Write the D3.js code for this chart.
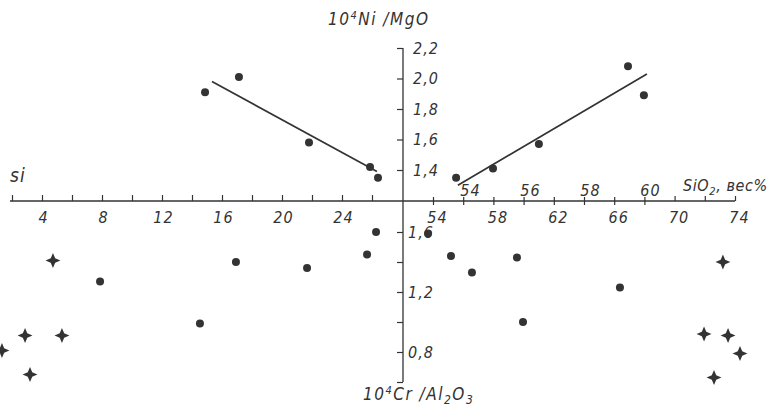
<!DOCTYPE html>
<html>
<head>
<meta charset="utf-8">
<title>Ni/MgO and Cr/Al2O3 vs si and SiO2</title>
<script src="https://d3js.org/d3.v7.min.js"></script>
<style>
  body { margin: 0; background: #fff; }
  text { font-family: "DejaVu Sans Condensed", "Liberation Sans", sans-serif; font-style: italic; fill: #333; letter-spacing: 1px; }
</style>
</head>
<body>
<script>

// --- data ---
// upper left: 10^4 Ni/MgO against si
var niSi      = [14.87, 17.13, 21.8, 25.87, 26.4];
var niSiVal   = [1.91, 2.01, 1.58, 1.42, 1.35];
var niSiLineX = [15.33, 26.33];
var niSiLineY = [1.98, 1.39];

// upper right: 10^4 Ni/MgO against SiO2 (upper scale)
var niSio2      = [53.77, 55.0, 56.53, 59.5, 60.03];
var niSio2Val   = [1.35, 1.41, 1.57, 2.08, 1.89];
var niSio2LineX = [53.83, 60.13];
var niSio2LineY = [1.30, 2.03];

// lower left: 10^4 Cr/Al2O3 against si
var crSiDot      = [7.87, 14.53, 16.93, 21.67, 25.67, 26.27];
var crSiDotVal   = [1.27, 0.99, 1.40, 1.36, 1.45, 1.60];
var crSiStar     = [1.33, 2.87, 3.2, 4.73, 5.33];
var crSiStarVal  = [0.81, 0.91, 0.65, 1.41, 0.91];

// lower right: 10^4 Cr/Al2O3 against SiO2 (lower scale)
var crSio2Dot     = [53.67, 55.19, 56.58, 59.56, 59.96, 66.38];
var crSio2DotVal  = [1.59, 1.44, 1.33, 1.43, 1.00, 1.23];
var crSio2Star    = [73.2, 71.95, 73.54, 74.33, 72.61];
var crSio2StarVal = [1.40, 0.92, 0.91, 0.79, 0.63];

// tick values
var siTicks       = [2, 4, 6, 8, 10, 12, 14, 16, 18, 20, 22, 24, 26];
var siLabels      = [4, 8, 12, 16, 20, 24];
var sio2TopLabels = [54, 56, 58, 60];
var sio2BotTicks  = [54, 56, 58, 60, 62, 64, 66, 68, 70, 72, 74];
var sio2BotLabels = [54, 58, 62, 66, 70, 74];
var niTicks       = [1.4, 1.6, 1.8, 2.0, 2.2];
var crTicks       = [0.6, 0.8, 1.0, 1.2, 1.4, 1.6];
var crLabels      = [0.8, 1.2, 1.6];

var width = 772, height = 409;
var ink = "#333";
var x0 = 403, y0 = 201;

var xSi     = d3.scaleLinear().domain([4, 26]).range([42, 372]);
var xSio2T  = d3.scaleLinear().domain([54, 60]).range([463, 643]);
var xSio2B  = d3.scaleLinear().domain([54, 74]).range([433, 735]);
var yNi     = d3.scaleLinear().domain([1.4, 2.2]).range([170, 48]);
var yCr     = d3.scaleLinear().domain([1.6, 0.6]).range([232, 382]);

var comma = function(d) { return d.toFixed(1).replace(".", ","); };

var svg = d3.select("body").append("svg")
    .attr("width", width)
    .attr("height", height);

// horizontal axis line, one for both halves
svg.append("line")
    .attr("x1", 10).attr("x2", 735)
    .attr("y1", y0).attr("y2", y0)
    .attr("stroke", ink).attr("stroke-width", 1.3);

// vertical axis line
svg.append("line")
    .attr("x1", x0).attr("x2", x0)
    .attr("y1", yNi(2.2)).attr("y2", yCr(0.6))
    .attr("stroke", ink).attr("stroke-width", 1.3);

function styleAxis(g) {
    g.select(".domain").remove();
    g.selectAll(".tick line").attr("stroke", ink).attr("stroke-width", 1.2);
    g.selectAll(".tick text").style("font-size", "16px").attr("fill", ink);
}

// si ticks (pointing up) and labels (below)
svg.append("g").attr("transform", "translate(0," + y0 + ")")
    .call(d3.axisTop(xSi).tickValues(siTicks).tickSize(6).tickFormat(""))
    .call(styleAxis);
svg.append("g").attr("transform", "translate(1," + y0 + ")")
    .call(d3.axisBottom(xSi).tickValues(siLabels).tickSize(0).tickPadding(11).tickFormat(d3.format("d")))
    .call(styleAxis);

// SiO2 ticks on the right half
svg.append("g").attr("transform", "translate(0," + (y0 + 4) + ")")
    .call(d3.axisTop(xSio2B).tickValues(sio2BotTicks.filter(function(d) { return d <= 68; })).tickSize(8).tickFormat(""))
    .call(styleAxis);
svg.append("g").attr("transform", "translate(0," + y0 + ")")
    .call(d3.axisTop(xSio2B).tickValues(sio2BotTicks.filter(function(d) { return d > 68; })).tickSize(5).tickFormat(""))
    .call(styleAxis);
svg.append("g").attr("transform", "translate(4," + y0 + ")")
    .call(d3.axisBottom(xSio2B).tickValues(sio2BotLabels).tickSize(0).tickPadding(11).tickFormat(d3.format("d")))
    .call(styleAxis);
svg.append("g").attr("transform", "translate(7," + y0 + ")")
    .call(d3.axisTop(xSio2T).tickValues(sio2TopLabels).tickSize(0).tickPadding(5).tickFormat(d3.format("d")))
    .call(styleAxis);

// vertical axes: ticks to the left, labels to the right
svg.append("g").attr("transform", "translate(" + x0 + ",0)")
    .call(d3.axisLeft(yNi).tickValues(niTicks).tickSize(6).tickFormat(""))
    .call(styleAxis);
svg.append("g").attr("transform", "translate(" + x0 + ",0)")
    .call(d3.axisRight(yNi).tickValues(niTicks).tickSize(0).tickPadding(10).tickFormat(comma))
    .call(styleAxis);
svg.append("g").attr("transform", "translate(" + x0 + ",0)")
    .call(d3.axisLeft(yCr).tickValues(crTicks).tickSize(6).tickFormat(""))
    .call(styleAxis);
svg.append("g").attr("transform", "translate(" + x0 + ",0)")
    .call(d3.axisRight(yCr).tickValues(crLabels).tickSize(0).tickPadding(5).tickFormat(comma))
    .call(styleAxis);

// axis titles
var t1 = svg.append("text").attr("x", 328).attr("y", 25).style("font-size", "17px").style("letter-spacing", "1.5px");
t1.append("tspan").text("10");
t1.append("tspan").attr("dy", -6).style("font-size", "11px").text("4");
t1.append("tspan").attr("dy", 6).text("Ni /MgO");

var t2 = svg.append("text").attr("x", 363).attr("y", 400).style("font-size", "17px").style("letter-spacing", "1.5px");
t2.append("tspan").text("10");
t2.append("tspan").attr("dy", -6).style("font-size", "11px").text("4");
t2.append("tspan").attr("dy", 6).text("Cr /Al");
t2.append("tspan").attr("dy", 4).style("font-size", "12px").text("2");
t2.append("tspan").attr("dy", -4).text("O");
t2.append("tspan").attr("dy", 4).style("font-size", "12px").text("3");

var t3 = svg.append("text").attr("x", 683).attr("y", 191).style("font-size", "16px").style("letter-spacing", "0.6px");
t3.append("tspan").text("SiO");
t3.append("tspan").attr("dy", 4).style("font-size", "11px").text("2");
t3.append("tspan").attr("dy", -4).text(", вес%");

svg.append("text").attr("x", 10).attr("y", 182).style("font-size", "19px").text("si");

// regression lines
var lineL = d3.line().x(function(d) { return xSi(d[0]); }).y(function(d) { return yNi(d[1]); });
var lineR = d3.line().x(function(d) { return xSio2T(d[0]); }).y(function(d) { return yNi(d[1]); });
svg.append("path").datum(d3.zip(niSiLineX, niSiLineY))
    .attr("d", lineL).attr("fill", "none").attr("stroke", ink).attr("stroke-width", 1.7);
svg.append("path").datum(d3.zip(niSio2LineX, niSio2LineY))
    .attr("d", lineR).attr("fill", "none").attr("stroke", ink).attr("stroke-width", 1.7);

// dots
function dots(xs, ys, xScale, yScale) {
    svg.append("g").selectAll("circle")
        .data(d3.zip(xs, ys))
        .enter().append("circle")
        .attr("cx", function(d) { return xScale(d[0]); })
        .attr("cy", function(d) { return yScale(d[1]); })
        .attr("r", 4)
        .attr("fill", ink);
}
dots(niSi, niSiVal, xSi, yNi);
dots(niSio2, niSio2Val, xSio2T, yNi);
dots(crSiDot, crSiDotVal, xSi, yCr);
dots(crSio2Dot, crSio2DotVal, xSio2B, yCr);

// four-pointed star symbol
var star4 = {
    draw: function(ctx, size) {
        var r = Math.sqrt(size), w = r * 0.3;
        ctx.moveTo(0, -r);
        ctx.lineTo(w, -w);
        ctx.lineTo(r, 0);
        ctx.lineTo(w, w);
        ctx.lineTo(0, r);
        ctx.lineTo(-w, w);
        ctx.lineTo(-r, 0);
        ctx.lineTo(-w, -w);
        ctx.closePath();
    }
};
function stars(xs, ys, xScale, yScale) {
    svg.append("g").selectAll("path")
        .data(d3.zip(xs, ys))
        .enter().append("path")
        .attr("transform", function(d) { return "translate(" + xScale(d[0]) + "," + yScale(d[1]) + ")"; })
        .attr("d", d3.symbol().type(star4).size(55))
        .attr("fill", ink);
}
stars(crSiStar, crSiStarVal, xSi, yCr);
stars(crSio2Star, crSio2StarVal, xSio2B, yCr);

</script>
</body>
</html>
